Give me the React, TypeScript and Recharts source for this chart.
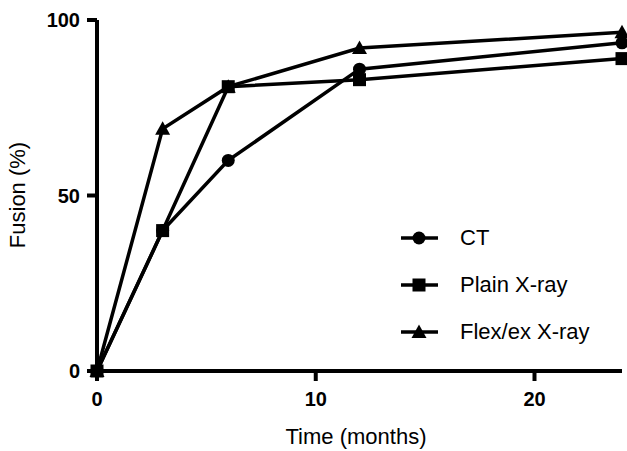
import { LineChart, Line, XAxis, YAxis, Legend, Label } from 'recharts'

const months = [0, 3, 6, 12, 24]
const ctFusion = [0, 40, 60, 86, 93.5]
const plainFusion = [0, 40, 81, 83, 89]
const flexFusion = [0, 69, 81, 92, 96.5]
const xTicks = [0, 10, 20]
const yTicks = [0, 50, 100]

const FONT = '"Liberation Sans", Arial, Helvetica, sans-serif'

type Shape = 'circle' | 'square' | 'triangle'

const series: { key: string; name: string; shape: Shape }[] = [
  { key: 'ct', name: 'CT', shape: 'circle' },
  { key: 'plain', name: 'Plain X-ray', shape: 'square' },
  { key: 'flex', name: 'Flex/ex X-ray', shape: 'triangle' },
]

const data = months.map((m, i) => ({
  month: m,
  ct: ctFusion[i],
  plain: plainFusion[i],
  flex: flexFusion[i],
}))

function Marker({ shape, cx, cy }: { shape: Shape; cx: number; cy: number }) {
  if (shape === 'circle') return <circle cx={cx} cy={cy} r={6.5} fill="#000" />
  if (shape === 'square') return <rect x={cx - 6.5} y={cy - 6.5} width={13} height={13} fill="#000" />
  return (
    <polygon
      points={`${cx},${cy - 7.5} ${cx + 7.5},${cy + 6} ${cx - 7.5},${cy + 6}`}
      fill="#000"
    />
  )
}

function makeDot(shape: Shape) {
  return (props: { cx?: number; cy?: number; index?: number }) => {
    const { cx, cy, index } = props
    if (cx == null || cy == null) return <g key={index} />
    return <Marker key={index} shape={shape} cx={cx} cy={cy} />
  }
}

function LegendBox() {
  return (
    <div style={{ fontFamily: FONT, fontSize: 22, color: '#000' }}>
      {series.map((s) => (
        <div key={s.key} style={{ display: 'flex', alignItems: 'center', height: 47 }}>
          <svg width={42} height={20} style={{ display: 'block' }}>
            <line x1={2} y1={10} x2={39} y2={10} stroke="#000" strokeWidth={3.5} />
            <Marker shape={s.shape} cx={20} cy={10} />
          </svg>
          <span style={{ marginLeft: 19, lineHeight: 1 }}>{s.name}</span>
        </div>
      ))}
    </div>
  )
}

const tickStyle = { fontFamily: FONT, fontSize: 20, fontWeight: 700, fill: '#000' }
const axisLine = { stroke: '#000', strokeWidth: 4 }

export default function App() {
  return (
    <div style={{ position: 'absolute', left: 0, top: 0, background: '#fff' }}>
      <LineChart
        width={627}
        height={451}
        data={data}
        margin={{ top: 20, right: 5, bottom: 0, left: 0 }}
      >
        <XAxis
          dataKey="month"
          type="number"
          domain={[0, 24]}
          ticks={xTicks}
          tick={tickStyle}
          axisLine={axisLine}
          tickLine={axisLine}
          tickSize={10}
          tickMargin={11}
          height={80}
        >
          <Label
            content={() => (
              <text
                x={356}
                y={444}
                textAnchor="middle"
                fontFamily={FONT}
                fontSize={22}
                fill="#000"
              >
                Time (months)
              </text>
            )}
          />
        </XAxis>
        <YAxis
          type="number"
          domain={[0, 100]}
          ticks={yTicks}
          tick={tickStyle}
          axisLine={axisLine}
          tickLine={axisLine}
          tickSize={10}
          tickMargin={7}
          width={97}
        >
          <Label
            content={() => (
              <text
                x={17.5}
                y={195}
                transform="rotate(-90 17.5 195)"
                textAnchor="middle"
                dominantBaseline="central"
                fontFamily={FONT}
                fontSize={22}
                fill="#000"
              >
                Fusion (%)
              </text>
            )}
          />
        </YAxis>
        <Legend
          layout="vertical"
          align="center"
          verticalAlign="middle"
          content={() => <LegendBox />}
          wrapperStyle={{ position: 'absolute', left: 399, top: 214, width: 220 }}
        />
        {series.map((s) => (
          <Line
            key={s.key}
            dataKey={s.key}
            name={s.name}
            type="linear"
            stroke="#000"
            strokeWidth={3.5}
            dot={makeDot(s.shape)}
            activeDot={false}
            isAnimationActive={false}
          />
        ))}
      </LineChart>
    </div>
  )
}
